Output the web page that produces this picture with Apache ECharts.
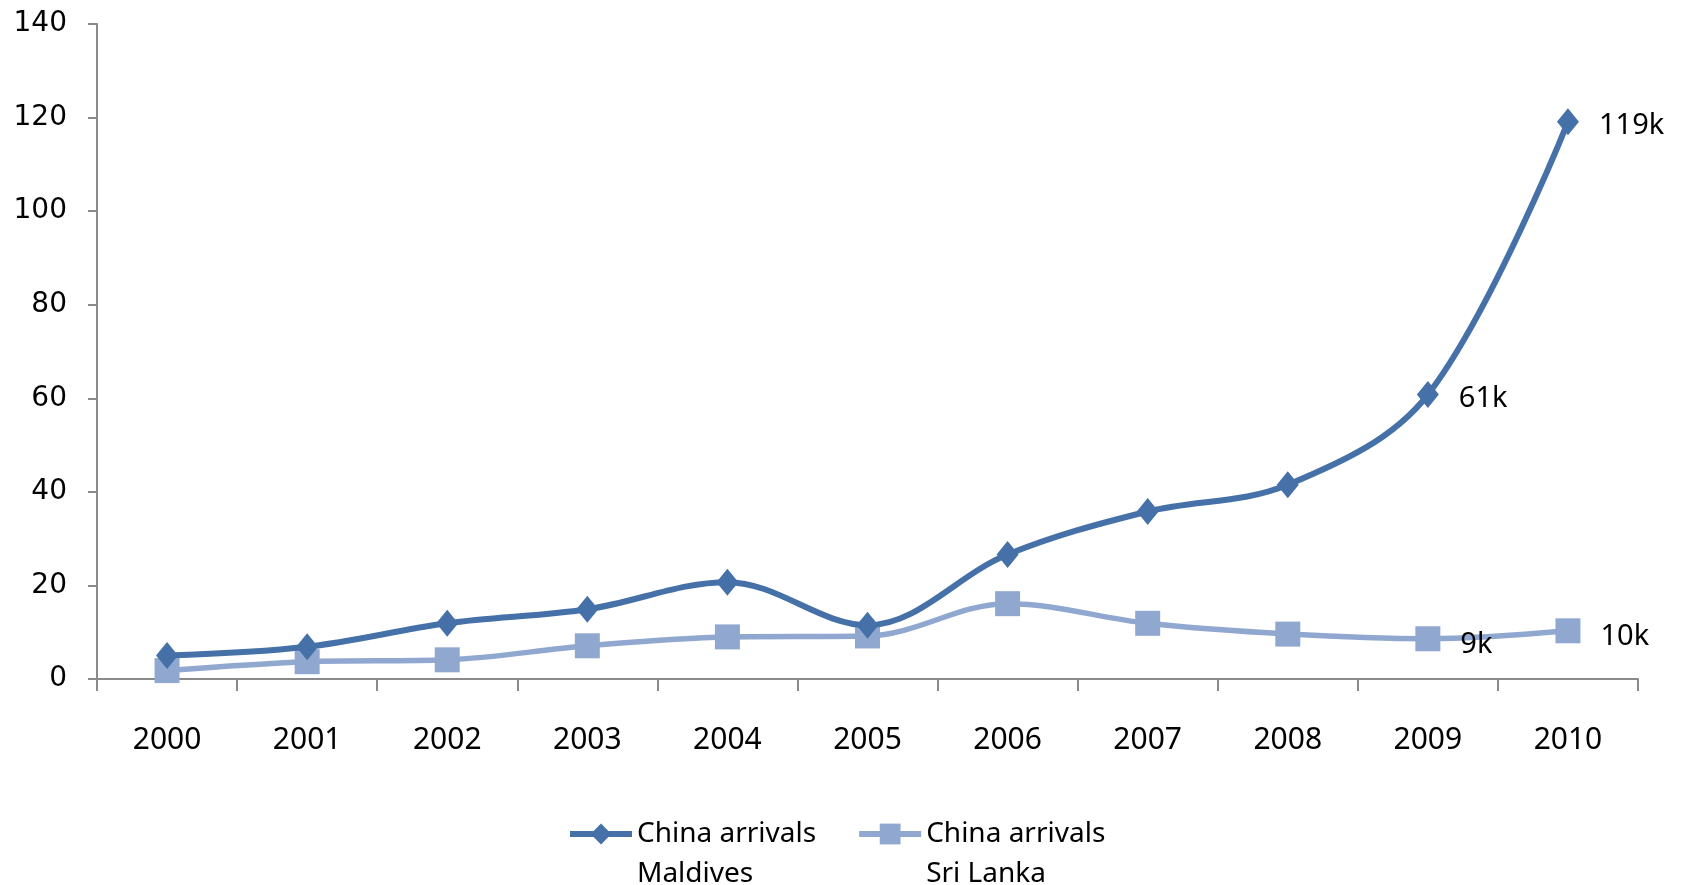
<!DOCTYPE html>
<html>
<head>
<meta charset="utf-8">
<script src="https://cdn.jsdelivr.net/npm/echarts@6/dist/echarts.min.js"></script>
<style>
  html, body { margin: 0; padding: 0; background: #fff; }
  #chart { width: 1684px; height: 885px; }
</style>
</head>
<body>
<div id="chart"></div>
<script>
// Chinese visitor arrivals (thousands)
const years = ['2000', '2001', '2002', '2003', '2004', '2005', '2006', '2007', '2008', '2009', '2010'];
const maldives = [5.0, 6.9, 11.9, 14.9, 20.7, 11.5, 26.6, 35.8, 41.5, 60.8, 119.1];
const sriLanka = [1.8, 3.7, 4.1, 7.1, 9.0, 9.2, 16.1, 11.9, 9.6, 8.6, 10.3];
const seriesNames = ['China arrivals\nMaldives', 'China arrivals\nSri Lanka'];
const labelledYears = ['2009', '2010'];
const yTicks = { min: 0, max: 140, step: 20 };

const DARK = '#4571a8';
const LIGHT = '#90a8d0';
const AXIS = '#8a8a8a';
const FONT = 'Noto Sans';

function pointLabel(p) {
  return labelledYears.includes(years[p.dataIndex]) ? Math.round(p.value) + 'k' : '';
}

const chart = echarts.init(document.getElementById('chart'), null, { renderer: 'canvas' });
chart.setOption({
  animation: false,
  backgroundColor: '#ffffff',
  grid: { left: 97, right: 46, top: 24, bottom: 206, containLabel: false },
  xAxis: {
    type: 'category',
    data: years,
    boundaryGap: true,
    axisLine: { lineStyle: { color: AXIS, width: 2 } },
    axisTick: { show: true, length: 12, lineStyle: { color: AXIS, width: 2 } },
    axisLabel: { margin: 46, color: '#000', fontFamily: FONT, fontSize: 30 },
    splitLine: { show: false }
  },
  yAxis: {
    type: 'value',
    min: yTicks.min,
    max: yTicks.max,
    interval: yTicks.step,
    axisLine: { show: true, lineStyle: { color: AXIS, width: 2 } },
    axisTick: { show: true, length: 9, lineStyle: { color: AXIS, width: 2 } },
    axisLabel: { margin: 30, color: '#000', fontFamily: 'DejaVu Sans', fontSize: 28 },
    splitLine: { show: false }
  },
  legend: {
    left: 562,
    top: 769,
    orient: 'horizontal',
    itemWidth: 62,
    itemHeight: 26,
    itemGap: 40,
    lineStyle: { width: 6 },
    // a blank first row keeps the series name's first line level with its key
    formatter: name => ' \n' + name,
    textStyle: { fontFamily: FONT, fontSize: 28, color: '#000', lineHeight: 40 },
    data: seriesNames
  },
  series: [
    {
      name: seriesNames[0],
      type: 'line',
      data: maldives,
      smooth: 0.35,
      symbol: 'diamond',
      symbolSize: [22, 27],
      lineStyle: { color: DARK, width: 6 },
      itemStyle: { color: DARK },
      label: {
        show: true, position: 'right', distance: 20, offset: [0, 4],
        formatter: pointLabel,
        fontFamily: FONT, fontSize: 29, color: '#000'
      },
      z: 3
    },
    {
      name: seriesNames[1],
      type: 'line',
      data: sriLanka,
      smooth: 0.35,
      symbol: 'rect',
      symbolSize: 25,
      lineStyle: { color: LIGHT, width: 5.5 },
      itemStyle: { color: LIGHT },
      label: {
        show: true, position: 'right', distance: 20, offset: [0, 6],
        formatter: pointLabel,
        fontFamily: FONT, fontSize: 29, color: '#000'
      },
      z: 2
    }
  ]
});
</script>
</body>
</html>
